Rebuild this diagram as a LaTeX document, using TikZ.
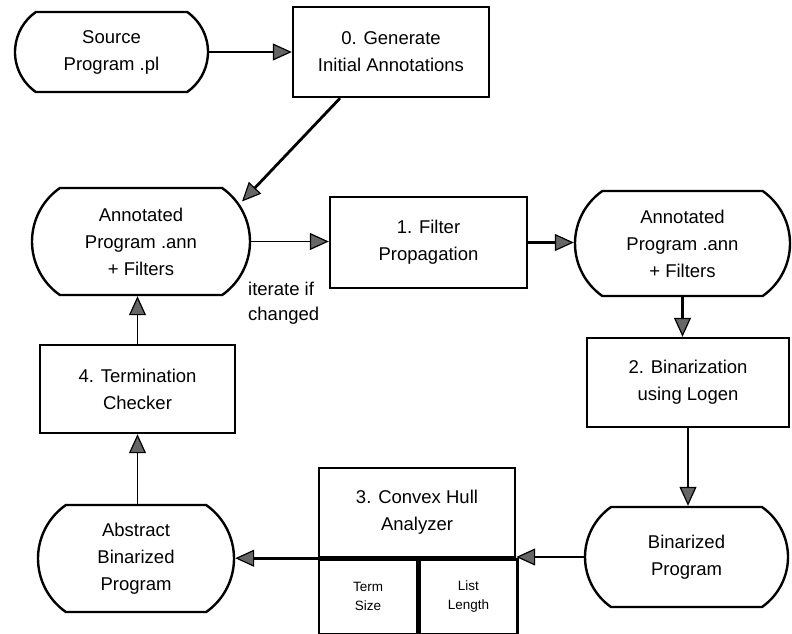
\documentclass[tikz,border=0pt]{standalone}
\usepackage{fontspec}
\setmainfont{Liberation Sans}
\usetikzlibrary{arrows.meta,shapes.misc,calc}
\begin{document}
\begin{tikzpicture}[x=1pt,y=-1pt,
  base/.style={draw=black, line width=2.4pt, align=center, inner sep=0pt,
    font=\fontsize{18.5}{27}\selectfont},
  procbox/.style={base, rectangle},
  databox/.style={base, rounded rectangle, rounded rectangle arc length=110},
  cell/.style={draw=black, line width=2.4pt, rectangle, align=center, inner sep=0pt,
    font=\fontsize{13.5}{19}\selectfont},
  flow/.style={line width=2.8pt,
    -{Triangle[length=19pt,width=17pt,line width=1.2pt,fill=black!60]}},
  thinflow/.style={flow, line width=1.8pt},
]
% canvas
\fill[white] (0,0) rectangle (792,633);
\useasboundingbox (0,0) rectangle (792,633);

% data (rounded) and process (rectangular) stages
\node[databox, minimum width=193pt, minimum height=80pt]  (src)  at (111.5,52)  {Source\\Program .pl};
\node[procbox, minimum width=196pt, minimum height=90pt]  (gen)  at (391,52)    {0. Generate\\Initial Annotations};
\node[databox, minimum width=218pt, minimum height=107pt] (ann1) at (141,241.5) {Annotated\\Program .ann\\+ Filters};
\node[procbox, minimum width=197pt, minimum height=91pt]  (filt) at (428.5,242.5) {1. Filter\\Propagation};
\node[databox, minimum width=215pt, minimum height=105pt] (ann2) at (682.5,243.5) {Annotated\\Program .ann\\+ Filters};
\node[procbox, minimum width=202pt, minimum height=89pt]  (bin)  at (688,382.5) {2. Binarization\\using Logen};
\node[databox, minimum width=203pt, minimum height=100pt] (binp) at (686.5,557) {Binarized\\Program};
\node[procbox, minimum width=196pt, minimum height=89pt]  (hull) at (417,512.5) {3. Convex Hull\\Analyzer};
\node[cell, minimum width=98pt, minimum height=75pt, anchor=north west] (tsize) at (hull.south west) {Term\\Size};
\node[cell, minimum width=98pt, minimum height=75pt, anchor=north west] (llen) at (tsize.north east) {List\\Length};
\node[databox, minimum width=196pt, minimum height=107pt] (abs)  at (136,558.5) {Abstract\\Binarized\\Program};
\node[procbox, minimum width=195pt, minimum height=88pt]  (term) at (137.5,389) {4. Termination\\Checker};

% divider between analyzer and its domains
\draw[line width=2.8pt] (hull.south west) -- (hull.south east);

% loop label
\node[font=\fontsize{18.5}{25}\selectfont, align=left, anchor=west, inner sep=0pt] (iter) at (248,303) {iterate if\\changed};

% connectors
\coordinate (genout) at ($(gen.south)+(-51,0)$);
\coordinate (ann1in) at ($(ann1.center)+(101,-40)$);
\draw[flow] (src.east) -- (gen.west);
\draw[flow] (genout) -- (ann1in);
\draw[thinflow] (ann1.east) -- (ann1.east -| filt.west);
\draw[flow] (filt.east) -- (filt.east -| ann2.west);
\draw[flow] (ann2.south) -- (ann2.south |- bin.north);
\draw[flow] (bin.south) -- (bin.south |- binp.north);
\draw[flow] (binp.west) -- (binp.west -| hull.south east);
\draw[flow] (hull.south west) -- (hull.south west -| abs.east);
\draw[thinflow] (abs.north -| term.south) -- (term.south);
\draw[thinflow] (term.north) -- (term.north |- ann1.south);
\end{tikzpicture}
\end{document}
